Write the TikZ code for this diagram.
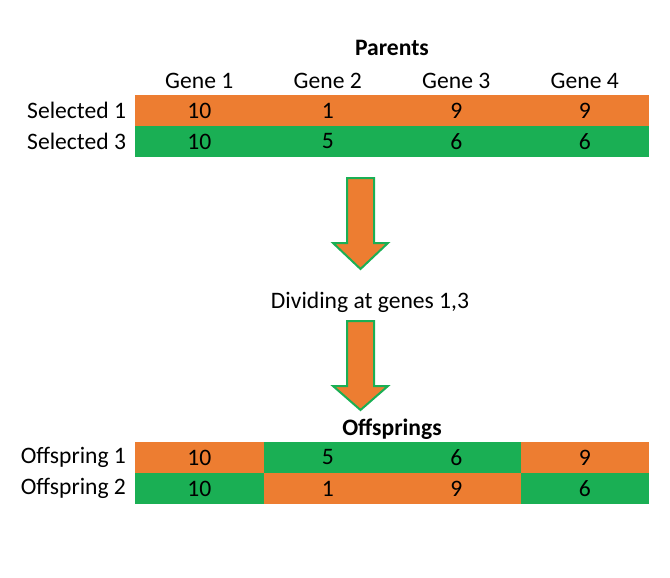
\documentclass[tikz,border=0pt]{standalone}
\usepackage{fontspec}
\setmainfont{Carlito}
\usetikzlibrary{positioning}
\definecolor{genorange}{RGB}{237,125,49}
\definecolor{gengreen}{RGB}{26,175,84}
\newcommand{\genefont}{\fontsize{11.8}{14}\selectfont}
\tikzset{
  cell/.style={minimum width=64.25pt, minimum height=15.5pt, inner sep=0pt, outer sep=0pt},
  rowlabel/.style={inner sep=0pt, outer sep=0pt},
  tabletitle/.style={font=\genefont\bfseries, anchor=base, inner sep=0pt},
  bigarrow/.style={fill=genorange, draw=gengreen, line width=1pt, line join=miter}
}

\begin{document}
\begin{tikzpicture}[x=0.5pt, y=-0.5pt, font=\genefont]
\useasboundingbox (0,0) rectangle (670,578);

% parents
\node[tabletitle] (parents) at (392,55) {Parents};
\foreach \g/\x in {1/199.25, 2/327.75, 3/456.25, 4/584.75}
  \node[anchor=base, inner sep=0pt] (gene\g) at (\x,88) {Gene \g};

\foreach \g/\x/\a/\b in {1/199.25/10/10, 2/327.75/1/5, 3/456.25/9/6, 4/584.75/9/6} {
  \node[cell, fill=genorange] (sa\g) at (\x,110.5) {\a};
  \node[cell, fill=gengreen] (sb\g) at (\x,141.5) {\b};
}
\node[rowlabel, left=4.5pt of sa1] (sel1) {Selected 1};
\node[rowlabel, left=4.5pt of sb1] (sel3) {Selected 3};

% dividing step
\node[anchor=base, inner sep=0pt] (divide) at (370,308) {Dividing at genes 1,3};
\foreach \top/\head/\tip in {178/243/269, 321/386/410}
  \draw[bigarrow] (347,\top) -- (374,\top) -- (374,\head) -- (388,\head)
    -- (360.5,\tip) -- (333,\head) -- (347,\head) -- cycle;

% offsprings
\node[tabletitle] (offsprings) at (392,435) {Offsprings};
\foreach \g/\x/\a/\b/\ca/\cb in {1/199.25/10/10/genorange/gengreen,
    2/327.75/5/1/gengreen/genorange, 3/456.25/6/9/gengreen/genorange,
    4/584.75/9/6/genorange/gengreen} {
  \node[cell, fill=\ca] (oa\g) at (\x,457.5) {\a};
  \node[cell, fill=\cb] (ob\g) at (\x,488.5) {\b};
}
\node[rowlabel, left=4.5pt of oa1] (off1) {Offspring 1};
\node[rowlabel, left=4.5pt of ob1] (off2) {Offspring 2};
\end{tikzpicture}
\end{document}
